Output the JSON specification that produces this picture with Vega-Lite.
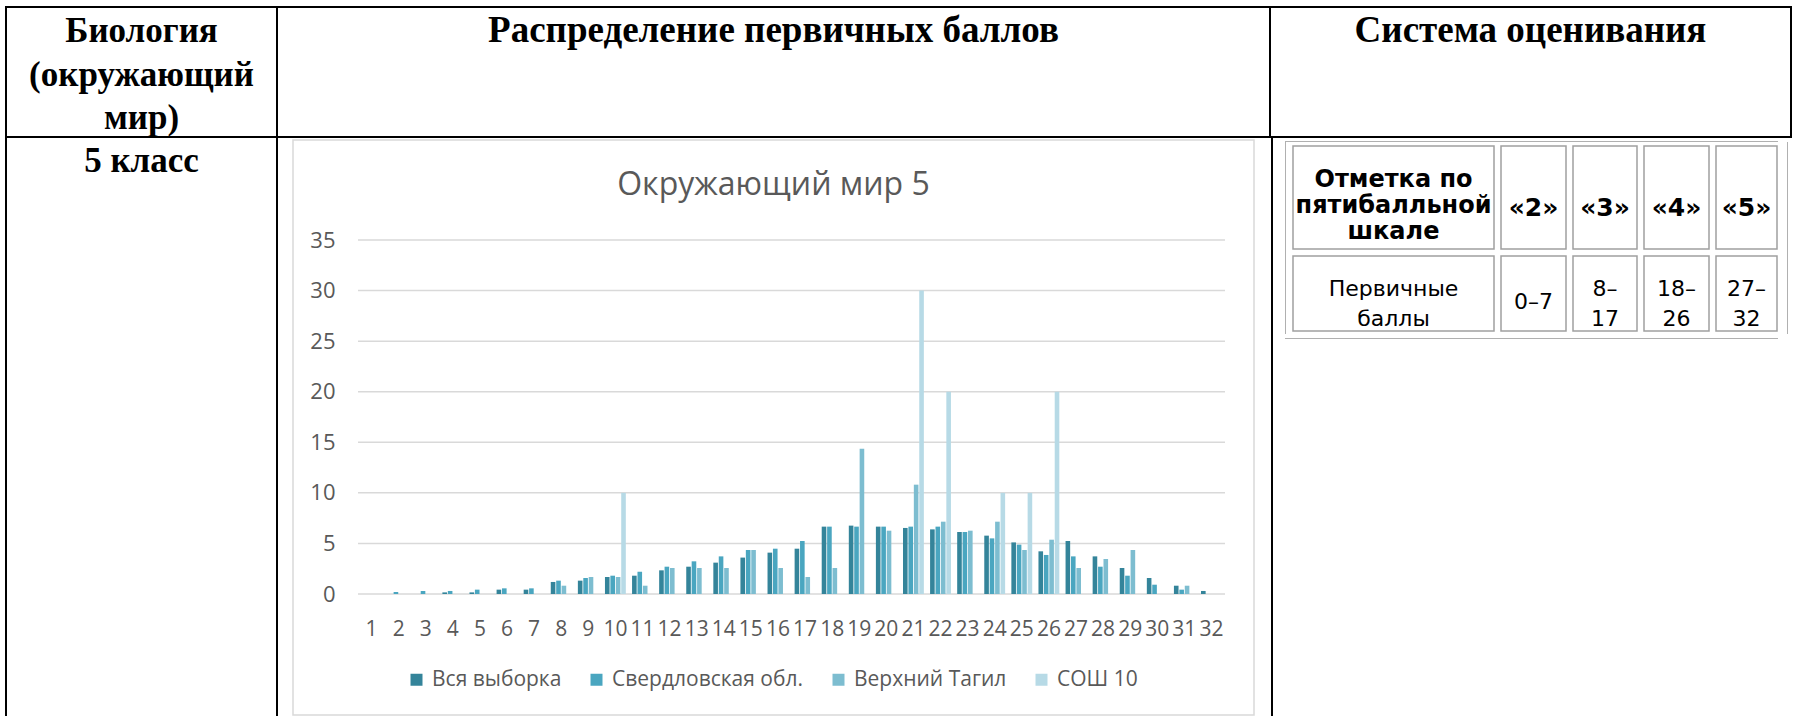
{
"$schema":"https://vega.github.io/schema/vega-lite/v6.json",
"background":"#ffffff",
"padding":{"left":5,"top":6,"right":0,"bottom":0},
"config":{"view":{"stroke":null},"concat":{"spacing":0}},
"spacing":0,
"vconcat":[
 {"data":{"values":[]},"mark":"rect","encoding":{},"width":1787,"height":2,"view":{"fill":"#000000","stroke":null}},
 {"spacing":0,"hconcat":[
  {"data":{"values":[]},"mark":"rect","encoding":{},"width":2,"height":128,"view":{"fill":"#000000","stroke":null}},
  {"data":{"values":[{"t":"Биология\n(окружающий\nмир)"}]},"mark":{"type":"text","lineBreak":"\n","font":"Liberation Serif","fontWeight":"bold","fontSize":35,"lineHeight":43.5,"dy":-41,"color":"#000000"},"encoding":{"text":{"field":"t","type":"nominal"}},"width":269,"height":128},
  {"data":{"values":[]},"mark":"rect","encoding":{},"width":2,"height":128,"view":{"fill":"#000000","stroke":null}},
  {"spacing":0,"vconcat":[
   {"data":{"values":[{"t":"Распределение первичных баллов"}]},"mark":{"type":"text","font":"Liberation Serif","fontWeight":"bold","fontSize":37,"color":"#000000"},"encoding":{"text":{"field":"t","type":"nominal"}},"width":991,"height":46},
   {"data":{"values":[]},"mark":"rect","encoding":{},"width":991,"height":82}
  ]},
  {"data":{"values":[]},"mark":"rect","encoding":{},"width":2,"height":128,"view":{"fill":"#000000","stroke":null}},
  {"spacing":0,"vconcat":[
   {"data":{"values":[{"t":"Система оценивания"}]},"mark":{"type":"text","font":"Liberation Serif","fontWeight":"bold","fontSize":37,"color":"#000000"},"encoding":{"text":{"field":"t","type":"nominal"}},"width":519,"height":46},
   {"data":{"values":[]},"mark":"rect","encoding":{},"width":519,"height":82}
  ]},
  {"data":{"values":[]},"mark":"rect","encoding":{},"width":2,"height":128,"view":{"fill":"#000000","stroke":null}}
 ]},
 {"data":{"values":[]},"mark":"rect","encoding":{},"width":1787,"height":2,"view":{"fill":"#000000","stroke":null}},
 {"spacing":0,"hconcat":[
  {"data":{"values":[]},"mark":"rect","encoding":{},"width":2,"height":578,"view":{"fill":"#000000","stroke":null}},
  {"spacing":0,"vconcat":[
   {"data":{"values":[{"t":"5 класс"}]},"mark":{"type":"text","font":"Liberation Serif","fontWeight":"bold","fontSize":35,"color":"#000000"},"encoding":{"text":{"field":"t","type":"nominal"}},"width":269,"height":46},
   {"data":{"values":[]},"mark":"rect","encoding":{},"width":269,"height":532}
  ]},
  {"data":{"values":[]},"mark":"rect","encoding":{},"width":2,"height":578,"view":{"fill":"#000000","stroke":null}},
  {"spacing":0,"hconcat":[
   {"data":{"values":[]},"mark":"rect","encoding":{},"width":14,"height":578},
   {"spacing":0,"vconcat":[
    {"data":{"values":[]},"mark":"rect","encoding":{},"width":961,"height":1},
    {
     "width":961,"height":575,
     "view":{"stroke":"#d9d9d9","strokeWidth":1.5},
     "title":{"text":"Окружающий мир 5","font":"Open Sans","fontSize":32,"fontWeight":"normal","color":"#595959","anchor":"middle","frame":"group","baseline":"middle","offset":-77},
     "layer":[
      {
       "data":{"values":[{"g":0},{"g":5},{"g":10},{"g":15},{"g":20},{"g":25},{"g":30},{"g":35}]},
       "mark":{"type":"rule","color":"#d9d9d9","strokeWidth":1.5},
       "encoding":{
        "y":{"field":"g","type":"quantitative","scale":{"domain":[0,35],"range":[454,100],"nice":false,"zero":true},
             "axis":{"orient":"left","offset":-64,"domain":false,"ticks":false,"tickSize":0,"grid":false,"labelPadding":22,"labelFont":"Open Sans","labelFontSize":22,"labelColor":"#595959","values":[0,5,10,15,20,25,30,35],"title":null}},
        "x":{"datum":0,"type":"quantitative","scale":{"domain":[0,1],"range":[65,932]},"axis":null},
        "x2":{"datum":1}
       }
      },
      {
       "data":{"values":[
        {"score":2,"series":"Свердловская обл.","value":0.2},
        {"score":3,"series":"Свердловская обл.","value":0.3},
        {"score":4,"series":"Вся выборка","value":0.16},{"score":4,"series":"Свердловская обл.","value":0.3},
        {"score":5,"series":"Вся выборка","value":0.16},{"score":5,"series":"Свердловская обл.","value":0.43},
        {"score":6,"series":"Вся выборка","value":0.43},{"score":6,"series":"Свердловская обл.","value":0.56},
        {"score":7,"series":"Вся выборка","value":0.43},{"score":7,"series":"Свердловская обл.","value":0.56},
        {"score":8,"series":"Вся выборка","value":1.19},{"score":8,"series":"Свердловская обл.","value":1.32},{"score":8,"series":"Верхний Тагил","value":0.82},
        {"score":9,"series":"Вся выборка","value":1.32},{"score":9,"series":"Свердловская обл.","value":1.58},{"score":9,"series":"Верхний Тагил","value":1.68},
        {"score":10,"series":"Вся выборка","value":1.68},{"score":10,"series":"Свердловская обл.","value":1.81},{"score":10,"series":"Верхний Тагил","value":1.68},{"score":10,"series":"СОШ 10","value":10},
        {"score":11,"series":"Вся выборка","value":1.81},{"score":11,"series":"Свердловская обл.","value":2.2},{"score":11,"series":"Верхний Тагил","value":0.82},
        {"score":12,"series":"Вся выборка","value":2.34},{"score":12,"series":"Свердловская обл.","value":2.7},{"score":12,"series":"Верхний Тагил","value":2.57},
        {"score":13,"series":"Вся выборка","value":2.7},{"score":13,"series":"Свердловская обл.","value":3.23},{"score":13,"series":"Верхний Тагил","value":2.57},
        {"score":14,"series":"Вся выборка","value":3.1},{"score":14,"series":"Свердловская обл.","value":3.72},{"score":14,"series":"Верхний Тагил","value":2.57},
        {"score":15,"series":"Вся выборка","value":3.6},{"score":15,"series":"Свердловская обл.","value":4.35},{"score":15,"series":"Верхний Тагил","value":4.35},
        {"score":16,"series":"Вся выборка","value":4.09},{"score":16,"series":"Свердловская обл.","value":4.48},{"score":16,"series":"Верхний Тагил","value":2.57},
        {"score":17,"series":"Вся выборка","value":4.48},{"score":17,"series":"Свердловская обл.","value":5.24},{"score":17,"series":"Верхний Тагил","value":1.68},
        {"score":18,"series":"Вся выборка","value":6.66},{"score":18,"series":"Свердловская обл.","value":6.66},{"score":18,"series":"Верхний Тагил","value":2.57},
        {"score":19,"series":"Вся выборка","value":6.76},{"score":19,"series":"Свердловская обл.","value":6.66},{"score":19,"series":"Верхний Тагил","value":14.37},
        {"score":20,"series":"Вся выборка","value":6.66},{"score":20,"series":"Свердловская обл.","value":6.66},{"score":20,"series":"Верхний Тагил","value":6.26},
        {"score":21,"series":"Вся выборка","value":6.53},{"score":21,"series":"Свердловская обл.","value":6.66},{"score":21,"series":"Верхний Тагил","value":10.81},{"score":21,"series":"СОШ 10","value":30},
        {"score":22,"series":"Вся выборка","value":6.39},{"score":22,"series":"Свердловская обл.","value":6.66},{"score":22,"series":"Верхний Тагил","value":7.15},{"score":22,"series":"СОШ 10","value":20},
        {"score":23,"series":"Вся выборка","value":6.13},{"score":23,"series":"Свердловская обл.","value":6.13},{"score":23,"series":"Верхний Тагил","value":6.26},
        {"score":24,"series":"Вся выборка","value":5.77},{"score":24,"series":"Свердловская обл.","value":5.5},{"score":24,"series":"Верхний Тагил","value":7.15},{"score":24,"series":"СОШ 10","value":10},
        {"score":25,"series":"Вся выборка","value":5.1},{"score":25,"series":"Свердловская обл.","value":4.88},{"score":25,"series":"Верхний Тагил","value":4.35},{"score":25,"series":"СОШ 10","value":10},
        {"score":26,"series":"Вся выборка","value":4.22},{"score":26,"series":"Свердловская обл.","value":3.86},{"score":26,"series":"Верхний Тагил","value":5.37},{"score":26,"series":"СОШ 10","value":20},
        {"score":27,"series":"Вся выборка","value":5.24},{"score":27,"series":"Свердловская обл.","value":3.72},{"score":27,"series":"Верхний Тагил","value":2.57},
        {"score":28,"series":"Вся выборка","value":3.72},{"score":28,"series":"Свердловская обл.","value":2.7},{"score":28,"series":"Верхний Тагил","value":3.46},
        {"score":29,"series":"Вся выборка","value":2.57},{"score":29,"series":"Свердловская обл.","value":1.81},{"score":29,"series":"Верхний Тагил","value":4.35},
        {"score":30,"series":"Вся выборка","value":1.58},{"score":30,"series":"Свердловская обл.","value":0.92},
        {"score":31,"series":"Вся выборка","value":0.82},{"score":31,"series":"Свердловская обл.","value":0.43},{"score":31,"series":"Верхний Тагил","value":0.82},
        {"score":32,"series":"Вся выборка","value":0.3}
       ]},
       "mark":{"type":"bar"},
       "encoding":{
        "x":{"field":"score","type":"ordinal","scale":{"type":"band","domain":[1,2,3,4,5,6,7,8,9,10,11,12,13,14,15,16,17,18,19,20,21,22,23,24,25,26,27,28,29,30,31,32],"range":[65,932],"paddingInner":0.23,"paddingOuter":0.115},
             "axis":{"orient":"bottom","offset":-121,"domain":false,"ticks":false,"tickSize":0,"labelPadding":24,"labelAngle":0,"labelFont":"Open Sans","labelFontSize":21,"labelColor":"#595959","labelOverlap":false,"title":null}},
        "xOffset":{"field":"series","type":"nominal","scale":{"domain":["Вся выборка","Свердловская обл.","Верхний Тагил","СОШ 10"],"paddingInner":0.15}},
        "y":{"field":"value","type":"quantitative","scale":{"domain":[0,35],"range":[454,100],"nice":false,"zero":true},
             "axis":{"orient":"left","offset":-64,"domain":false,"ticks":false,"tickSize":0,"grid":false,"labelPadding":22,"labelFont":"Open Sans","labelFontSize":22,"labelColor":"#595959","values":[0,5,10,15,20,25,30,35],"title":null}},
        "color":{"field":"series","type":"nominal","scale":{"domain":["Вся выборка","Свердловская обл.","Верхний Тагил","СОШ 10"],"range":["#34849a","#4aa6c0","#7dbdd0","#b7dae6"]},
                 "legend":{"orient":"none","legendX":401,"legendY":663,"direction":"horizontal","title":null,"symbolType":"square","symbolSize":144,"symbolStrokeWidth":0,"labelFont":"Open Sans","labelFontSize":21,"labelColor":"#595959","labelLimit":0,"columnPadding":24,"labelOffset":5,"padding":0}}
       }
      }
     ],
     "resolve":{"scale":{"x":"independent"},"axis":{"x":"independent"}}
    }
   ]},
   {"data":{"values":[]},"mark":"rect","encoding":{},"width":16,"height":578}
  ]},
  {"data":{"values":[]},"mark":"rect","encoding":{},"width":2,"height":578,"view":{"fill":"#000000","stroke":null}},
  {"spacing":0,"hconcat":[
   {"data":{"values":[]},"mark":"rect","encoding":{},"width":12,"height":578},
   {"spacing":0,"vconcat":[
    {"data":{"values":[]},"mark":"rect","encoding":{},"width":493,"height":3},
    {"spacing":0,"vconcat":[
     {"data":{"values":[]},"mark":"rect","encoding":{},"width":493,"height":1,"view":{"fill":"#b0b0b0","stroke":null}},
     {"spacing":0,"hconcat":[
      {"data":{"values":[]},"mark":"rect","encoding":{},"width":1,"height":192,"view":{"fill":"#b0b0b0","stroke":null}},
      {"data":{"values":[]},"mark":"rect","encoding":{},"width":6,"height":192},
      {"spacing":0,"vconcat":[
       {"data":{"values":[]},"mark":"rect","encoding":{},"width":476,"height":3},
       {"spacing":5,"hconcat":[
        {"spacing":5,"vconcat":[
         {"data":{"values":[{"t":"Отметка по\nпятибалльной\nшкале"}]},"mark":{"type":"text","lineBreak":"\n","font":"DejaVu Sans","fontWeight":"bold","fontSize":24,"lineHeight":26,"dy":-18,"color":"#000000"},"encoding":{"text":{"field":"t","type":"nominal"}},"width":201,"height":103,"view":{"stroke":"#a0a0a0","strokeWidth":1.5}},
         {"data":{"values":[{"t":"Первичные\nбаллы"}]},"mark":{"type":"text","lineBreak":"\n","font":"DejaVu Sans","fontSize":22,"lineHeight":30,"dy":-5,"color":"#000000"},"encoding":{"text":{"field":"t","type":"nominal"}},"width":201,"height":75,"view":{"stroke":"#a0a0a0","strokeWidth":1.5}}
        ]},
        {"spacing":5,"vconcat":[
         {"data":{"values":[{"t":"«2»"}]},"mark":{"type":"text","font":"DejaVu Sans","fontWeight":"bold","fontSize":25,"dy":10,"color":"#000000"},"encoding":{"text":{"field":"t","type":"nominal"}},"width":65,"height":103,"view":{"stroke":"#a0a0a0","strokeWidth":1.5}},
         {"data":{"values":[{"t":"0–7"}]},"mark":{"type":"text","font":"DejaVu Sans","fontSize":22,"dy":8,"color":"#000000"},"encoding":{"text":{"field":"t","type":"nominal"}},"width":65,"height":75,"view":{"stroke":"#a0a0a0","strokeWidth":1.5}}
        ]},
        {"spacing":5,"vconcat":[
         {"data":{"values":[{"t":"«3»"}]},"mark":{"type":"text","font":"DejaVu Sans","fontWeight":"bold","fontSize":25,"dy":10,"color":"#000000"},"encoding":{"text":{"field":"t","type":"nominal"}},"width":64,"height":103,"view":{"stroke":"#a0a0a0","strokeWidth":1.5}},
         {"data":{"values":[{"t":"8–\n17"}]},"mark":{"type":"text","lineBreak":"\n","font":"DejaVu Sans","fontSize":22,"lineHeight":30,"dy":-5,"color":"#000000"},"encoding":{"text":{"field":"t","type":"nominal"}},"width":64,"height":75,"view":{"stroke":"#a0a0a0","strokeWidth":1.5}}
        ]},
        {"spacing":5,"vconcat":[
         {"data":{"values":[{"t":"«4»"}]},"mark":{"type":"text","font":"DejaVu Sans","fontWeight":"bold","fontSize":25,"dy":10,"color":"#000000"},"encoding":{"text":{"field":"t","type":"nominal"}},"width":65,"height":103,"view":{"stroke":"#a0a0a0","strokeWidth":1.5}},
         {"data":{"values":[{"t":"18–\n26"}]},"mark":{"type":"text","lineBreak":"\n","font":"DejaVu Sans","fontSize":22,"lineHeight":30,"dy":-5,"color":"#000000"},"encoding":{"text":{"field":"t","type":"nominal"}},"width":65,"height":75,"view":{"stroke":"#a0a0a0","strokeWidth":1.5}}
        ]},
        {"spacing":5,"vconcat":[
         {"data":{"values":[{"t":"«5»"}]},"mark":{"type":"text","font":"DejaVu Sans","fontWeight":"bold","fontSize":25,"dy":10,"color":"#000000"},"encoding":{"text":{"field":"t","type":"nominal"}},"width":61,"height":103,"view":{"stroke":"#a0a0a0","strokeWidth":1.5}},
         {"data":{"values":[{"t":"27–\n32"}]},"mark":{"type":"text","lineBreak":"\n","font":"DejaVu Sans","fontSize":22,"lineHeight":30,"dy":-5,"color":"#000000"},"encoding":{"text":{"field":"t","type":"nominal"}},"width":61,"height":75,"view":{"stroke":"#a0a0a0","strokeWidth":1.5}}
        ]}
       ]},
       {"data":{"values":[]},"mark":"rect","encoding":{},"width":476,"height":6}
      ]},
      {"data":{"values":[]},"mark":"rect","encoding":{},"width":9,"height":192},
      {"data":{"values":[]},"mark":"rect","encoding":{},"width":1,"height":192,"view":{"fill":"#b0b0b0","stroke":null}}
     ]},
     {"data":{"values":[]},"mark":"rect","encoding":{},"width":493,"height":1,"view":{"fill":"#b0b0b0","stroke":null}}
    ]}
   ]},
   {"data":{"values":[]},"mark":"rect","encoding":{},"width":14,"height":578}
  ]},
  {"data":{"values":[]},"mark":"rect","encoding":{},"width":2,"height":578,"view":{"fill":"#000000","stroke":null}}
 ]}
]
}
